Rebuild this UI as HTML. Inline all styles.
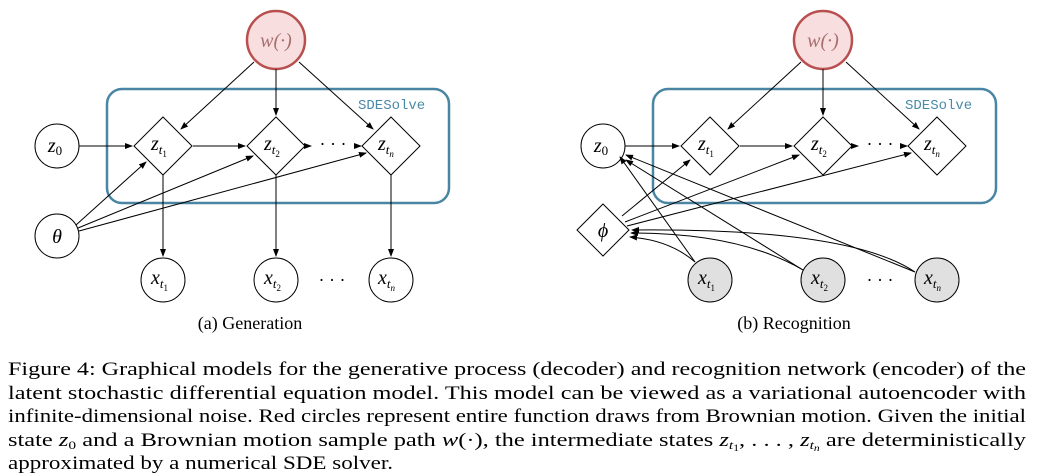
<!DOCTYPE html>
<html><head><meta charset="utf-8"><style>
html,body{margin:0;padding:0;background:#fff;}
svg{display:block;}
.m{font-family:"Liberation Serif",serif;font-style:italic;}
.c{font-family:"Liberation Serif",serif;}
.t{font-family:"Liberation Mono",monospace;fill:#4a8aa8;}
</style></head><body>
<svg width="1048" height="476" viewBox="0 0 1048 476" xmlns="http://www.w3.org/2000/svg">
<defs>
<marker id="a" markerWidth="8" markerHeight="6" refX="7" refY="3" orient="auto" markerUnits="userSpaceOnUse">
<path d="M0,0 L8,3 L0,6 Z" fill="#000"/></marker>
</defs>
<g stroke="#000" stroke-width="1" fill="none">
<rect x="107" y="89" width="342" height="114" rx="15" stroke="#4a86a3" stroke-width="2.5"/>
<circle cx="276" cy="40" r="29" fill="#f8dede" stroke="#b85050" stroke-width="2.5"/>
<circle cx="57" cy="146" r="22" fill="#fff"/>
<circle cx="57" cy="236" r="22" fill="#fff"/>
<polygon points="163,117 192,146 163,175 134,146" fill="#fff"/>
<polygon points="276,117 305,146 276,175 247,146" fill="#fff"/>
<polygon points="391,117 420,146 391,175 362,146" fill="#fff"/>
<circle cx="163" cy="280" r="22" fill="#fff"/>
<circle cx="276" cy="280" r="22" fill="#fff"/>
<circle cx="391" cy="280" r="22" fill="#fff"/>
<line x1="254" y1="62" x2="181" y2="129" marker-end="url(#a)"/>
<line x1="276" y1="69" x2="276" y2="115" marker-end="url(#a)"/>
<line x1="299" y1="62" x2="373" y2="129" marker-end="url(#a)"/>
<line x1="79" y1="146" x2="132" y2="146" marker-end="url(#a)"/>
<line x1="193" y1="146" x2="245" y2="146" marker-end="url(#a)"/>
<line x1="306" y1="146" x2="311" y2="146" marker-end="url(#a)"/>
<line x1="356" y1="146" x2="361" y2="146" marker-end="url(#a)"/>
<line x1="76" y1="225" x2="146" y2="162" marker-end="url(#a)"/>
<line x1="78" y1="228" x2="253" y2="156" marker-end="url(#a)"/>
<line x1="79" y1="231" x2="366" y2="153" marker-end="url(#a)"/>
<line x1="163" y1="175" x2="163" y2="256" marker-end="url(#a)"/>
<line x1="276" y1="175" x2="276" y2="256" marker-end="url(#a)"/>
<line x1="391" y1="175" x2="391" y2="256" marker-end="url(#a)"/>
<rect x="653" y="89" width="343" height="114" rx="15" stroke="#4a86a3" stroke-width="2.5"/>
<circle cx="823" cy="40" r="29" fill="#f8dede" stroke="#b85050" stroke-width="2.5"/>
<circle cx="603" cy="146" r="22" fill="#fff"/>
<polygon points="603,204 629,230 603,256 577,230" fill="#fff"/>
<polygon points="710,117 739,146 710,175 681,146" fill="#fff"/>
<polygon points="823,117 852,146 823,175 794,146" fill="#fff"/>
<polygon points="937,117 966,146 937,175 908,146" fill="#fff"/>
<circle cx="710" cy="280" r="22" fill="#e0e0e0"/>
<circle cx="823" cy="280" r="22" fill="#e0e0e0"/>
<circle cx="937" cy="280" r="22" fill="#e0e0e0"/>
<line x1="801" y1="62" x2="728" y2="129" marker-end="url(#a)"/>
<line x1="823" y1="69" x2="823" y2="115" marker-end="url(#a)"/>
<line x1="846" y1="62" x2="919" y2="129" marker-end="url(#a)"/>
<line x1="625" y1="146" x2="679" y2="146" marker-end="url(#a)"/>
<line x1="740" y1="146" x2="792" y2="146" marker-end="url(#a)"/>
<line x1="853" y1="146" x2="858" y2="146" marker-end="url(#a)"/>
<line x1="902" y1="146" x2="907" y2="146" marker-end="url(#a)"/>
<line x1="622" y1="216" x2="690" y2="160" marker-end="url(#a)"/>
<line x1="625" y1="222" x2="799" y2="155" marker-end="url(#a)"/>
<line x1="627" y1="226" x2="911" y2="153" marker-end="url(#a)"/>
<line x1="695" y1="262" x2="620" y2="157" marker-end="url(#a)"/>
<line x1="803" y1="270" x2="626" y2="160" marker-end="url(#a)"/>
<line x1="915" y1="272" x2="626" y2="155" marker-end="url(#a)"/>
<path d="M695,262 Q670,240 630,237" marker-end="url(#a)"/>
<path d="M803,270 Q740,233 631,233" marker-end="url(#a)"/>
<path d="M915,272 Q850,228 632,230" marker-end="url(#a)"/>
</g>
<g class="m" font-size="20" text-anchor="middle" fill="#000">
<text x="276" y="47" fill="#a87070">w(·)</text>
<text x="823" y="47" fill="#a87070">w(·)</text>
<text x="55" y="152">z<tspan font-size="13" font-style="normal" dy="3">0</tspan></text>
<text x="57" y="243">θ</text>
<text x="601" y="152">z<tspan font-size="13" font-style="normal" dy="3">0</tspan></text>
<text x="603" y="237">ϕ</text>
</g>
<g class="m" font-size="20" fill="#000">
<text x="151" y="150">z<tspan font-size="13" dy="4">t</tspan><tspan font-size="9" font-style="normal" dy="3">1</tspan></text>
<text x="264" y="150">z<tspan font-size="13" dy="4">t</tspan><tspan font-size="9" font-style="normal" dy="3">2</tspan></text>
<text x="378" y="150">z<tspan font-size="13" dy="4">t</tspan><tspan font-size="9" dy="3">n</tspan></text>
<text x="698" y="150">z<tspan font-size="13" dy="4">t</tspan><tspan font-size="9" font-style="normal" dy="3">1</tspan></text>
<text x="811" y="150">z<tspan font-size="13" dy="4">t</tspan><tspan font-size="9" font-style="normal" dy="3">2</tspan></text>
<text x="924" y="150">z<tspan font-size="13" dy="4">t</tspan><tspan font-size="9" dy="3">n</tspan></text>
<text x="151" y="284">x<tspan font-size="13" dy="4">t</tspan><tspan font-size="9" font-style="normal" dy="3">1</tspan></text>
<text x="264" y="284">x<tspan font-size="13" dy="4">t</tspan><tspan font-size="9" font-style="normal" dy="3">2</tspan></text>
<text x="378" y="284">x<tspan font-size="13" dy="4">t</tspan><tspan font-size="9" dy="3">n</tspan></text>
<text x="698" y="284">x<tspan font-size="13" dy="4">t</tspan><tspan font-size="9" font-style="normal" dy="3">1</tspan></text>
<text x="811" y="284">x<tspan font-size="13" dy="4">t</tspan><tspan font-size="9" font-style="normal" dy="3">2</tspan></text>
<text x="924" y="284">x<tspan font-size="13" dy="4">t</tspan><tspan font-size="9" dy="3">n</tspan></text>
</g>
<g class="c" font-size="18" text-anchor="middle" fill="#000">
<text x="333" y="150">· · ·</text>
<text x="332" y="286">· · ·</text>
<text x="880" y="150">· · ·</text>
<text x="880" y="286">· · ·</text>
<text x="250" y="329">(a) Generation</text>
<text x="794" y="329">(b) Recognition</text>
</g>
<text class="t" x="358" y="109" font-size="14">SDESolve</text>
<text class="t" x="905" y="109" font-size="14">SDESolve</text>
<g class="c" font-size="19" fill="#000">
<text x="8" y="375" textLength="1018" lengthAdjust="spacingAndGlyphs">Figure 4:   Graphical models for the generative process (decoder) and recognition network (encoder) of the</text>
<text x="8" y="399" textLength="1018" lengthAdjust="spacingAndGlyphs">latent stochastic differential equation model.  This model can be viewed as a variational autoencoder with</text>
<text x="8" y="422" textLength="1018" lengthAdjust="spacingAndGlyphs">infinite-dimensional noise. Red circles represent entire function draws from Brownian motion. Given the initial</text>
<text x="8" y="446" textLength="1018" lengthAdjust="spacingAndGlyphs">state <tspan font-style="italic">z</tspan><tspan font-size="12" dy="3">0</tspan><tspan dy="-3"> and a Brownian motion sample path </tspan><tspan font-style="italic">w</tspan>(·), the intermediate states <tspan font-style="italic">z</tspan><tspan font-size="12" font-style="italic" dy="3">t</tspan><tspan font-size="9" dy="2">1</tspan><tspan dy="-5">, . . . , </tspan><tspan font-style="italic">z</tspan><tspan font-size="12" font-style="italic" dy="3">t</tspan><tspan font-size="9" font-style="italic" dy="2">n</tspan><tspan dy="-5">  are deterministically</tspan></text>
<text x="8" y="469" textLength="385" lengthAdjust="spacingAndGlyphs">approximated by a numerical SDE solver.</text>
</g>
</svg>
</body></html>
